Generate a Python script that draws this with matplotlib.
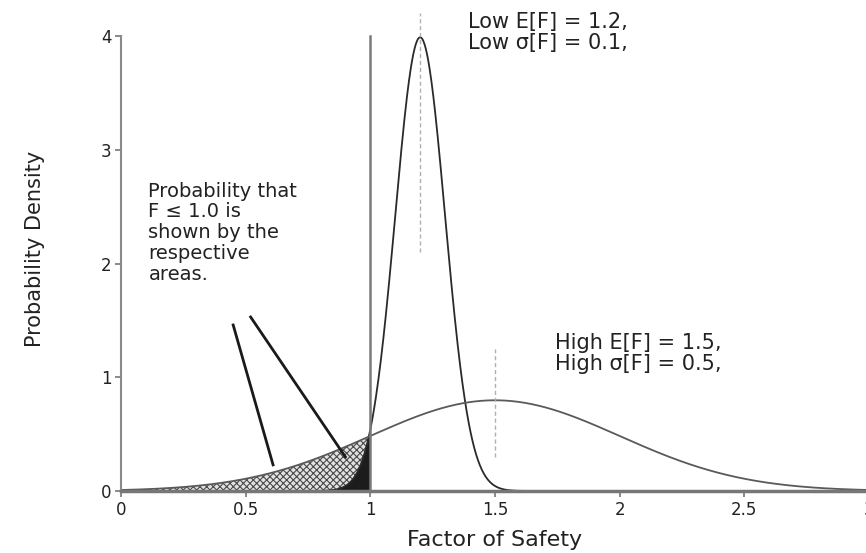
import numpy as np
import matplotlib.pyplot as plt

# distribution parameters
means = [1.2, 1.5]
sigmas = [0.1, 0.5]
curve_colors = ["#2a2a2a", "#5a5a5a"]

x_ticks = [0, 0.5, 1, 1.5, 2, 2.5, 3]
x_tick_labels = ["0", "0.5", "1", "1.5", "2", "2.5", "3"]
y_ticks = [0, 1, 2, 3, 4]

fail_limit = 1.0
mean_marks_lo = [2.1, 0.3]
mean_marks_hi = [4.2, 1.25]

# pointer lines from the note to the two shaded areas
pointer_x = [[0.45, 0.61], [0.52, 0.90]]
pointer_y = [[1.46, 0.23], [1.53, 0.30]]

plt.rcParams["font.family"] = ["DejaVu Sans"]

fig = plt.figure(figsize=(8.66, 5.53), dpi=100)
ax = fig.add_axes([0.1397, 0.1121, 0.8637, 0.874])

xs = np.linspace(0, 3, 1201)
pdfs = []
for m, s in zip(means, sigmas):
    pdfs.append(np.exp(-0.5 * ((xs - m) / s) ** 2) / (s * np.sqrt(2 * np.pi)))

low_pdf, high_pdf = pdfs

# shaded failure areas
plt.rcParams["hatch.linewidth"] = 0.8
ax.fill_between(xs, 0, high_pdf, where=xs <= fail_limit, facecolor="#e2e2e2",
                edgecolor="#4a4a4a", hatch="xxxxx", linewidth=0)
ax.fill_between(xs, 0, low_pdf, where=(xs <= fail_limit) & (xs >= 0.6),
                facecolor="#1c1c1c", linewidth=0)

for pdf, c in zip(pdfs, curve_colors):
    ax.plot(xs, pdf, color=c, lw=1.3)

ax.plot([fail_limit, fail_limit], [0, 4], color="#7a7a7a", lw=1.8)
for m, lo, hi in zip(means, mean_marks_lo, mean_marks_hi):
    ax.plot([m, m], [lo, hi], color="#b0b0b0", lw=1.0, ls=(0, (3, 2)))

for px, py in zip(pointer_x, pointer_y):
    ax.plot(px, py, color="#1a1a1a", lw=2)

ax.text(0.11, 2.72, "Probability that\nF \u2264 1.0 is\nshown by the\nrespective\nareas.",
        fontsize=14, color="#222222", va="top", ha="left", linespacing=1.12)
ax.text(1.39, 4.21, "Low E[F] = 1.2,\nLow \u03c3[F] = 0.1,",
        fontsize=15, color="#222222", va="top", ha="left", linespacing=1.05)
ax.text(1.74, 1.39, "High E[F] = 1.5,\nHigh \u03c3[F] = 0.5,",
        fontsize=15, color="#222222", va="top", ha="left", linespacing=1.05)

ax.set_xlim(0, 3)
ax.set_ylim(0, 4.25)
ax.set_xticks(x_ticks)
ax.set_xticklabels(x_tick_labels)
ax.set_yticks(y_ticks)
ax.tick_params(axis="both", labelsize=12, length=4, width=1.2, color="#777777",
               labelcolor="#222222", pad=3)

ax.spines["top"].set_visible(False)
ax.spines["right"].set_visible(False)
ax.spines["left"].set_bounds(0, 4)
ax.spines["left"].set_color("#8a8a8a")
ax.spines["left"].set_linewidth(1.5)
ax.spines["bottom"].set_color("#777777")
ax.spines["bottom"].set_linewidth(2.5)

ax.set_xlabel("Factor of Safety", fontsize=16, color="#222222", labelpad=8)
ax.set_ylabel("Probability Density", fontsize=15, color="#222222", labelpad=40)

fig.savefig("out.png", dpi=100)
